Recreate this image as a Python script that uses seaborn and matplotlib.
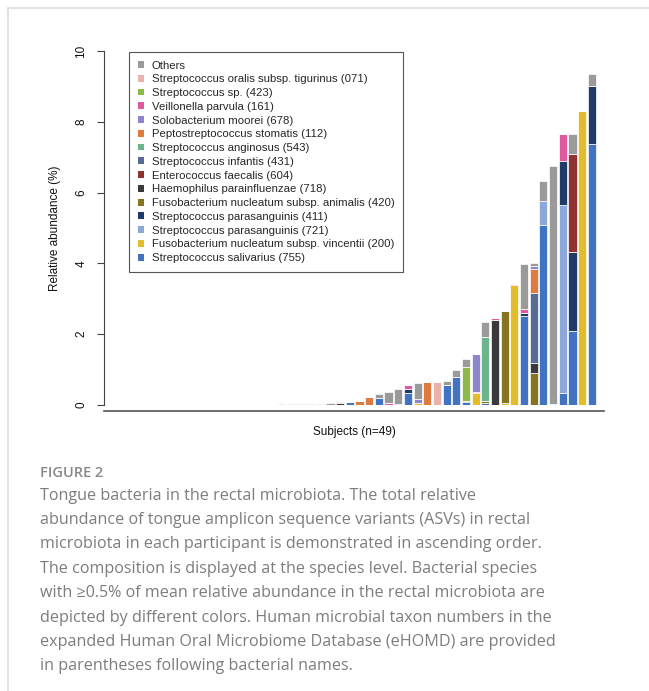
import pandas as pd
import matplotlib
matplotlib.use('Agg')
import matplotlib.pyplot as plt
import seaborn as sns
from matplotlib.patches import Patch
from matplotlib.lines import Line2D

# Subjects ranked 1..49 by total tongue-ASV abundance (ascending)
n_subjects = 49

# Legend order (top of stack first)
species = [
    'Others',
    'Streptococcus oralis subsp. tigurinus (071)',
    'Streptococcus sp. (423)',
    'Veillonella parvula (161)',
    'Solobacterium moorei (678)',
    'Peptostreptococcus stomatis (112)',
    'Streptococcus anginosus (543)',
    'Streptococcus infantis (431)',
    'Enterococcus faecalis (604)',
    'Haemophilus parainfluenzae (718)',
    'Fusobacterium nucleatum subsp. animalis (420)',
    'Streptococcus parasanguinis (411)',
    'Streptococcus parasanguinis (721)',
    'Fusobacterium nucleatum subsp. vincentii (200)',
    'Streptococcus salivarius (755)',
]
colors = ['#9a9a9a', '#e9b3ab', '#8db84a', '#e05aa0', '#8e86cc', '#e07b3f',
          '#6db38b', '#566c96', '#913232', '#3a3a3a', '#877420', '#203b67',
          '#8ca8db', '#e2bc2a', '#4273c2']

# Relative abundance (%) per species, keyed by subject rank
others = {17: 0.02, 18: 0.02, 19: 0.02, 20: 0.02, 21: 0.02, 22: 0.07, 23: 0.03,
          27: 0.12, 28: 0.31, 29: 0.40, 31: 0.45, 34: 0.12, 35: 0.21, 36: 0.23,
          38: 0.41, 42: 1.27, 43: 0.08, 44: 0.57, 45: 6.73, 47: 0.56, 49: 0.35}
oralis_071 = {33: 0.66}
strep_sp_423 = {36: 0.95}
veillonella_161 = {28: 0.07, 30: 0.11, 39: 0.07, 41: 0.03, 42: 0.11, 45: 0.03, 46: 0.77}
solobacterium_678 = {31: 0.09, 37: 1.08, 43: 0.08}
pepto_112 = {25: 0.10, 26: 0.23, 32: 0.66, 37: 0.03, 43: 0.67}
anginosus_543 = {38: 1.83}
infantis_431 = {43: 1.98}
faecalis_604 = {47: 2.76}
haemophilus_718 = {23: 0.05, 29: 0.04, 39: 2.40, 43: 0.28}
fuso_animalis_420 = {38: 0.05, 40: 2.60, 43: 0.91}
parasang_411 = {30: 0.10, 36: 0.04, 42: 0.08, 46: 1.24, 47: 2.23, 49: 1.64}
parasang_721 = {44: 0.69, 46: 5.30}
fuso_vincentii_200 = {31: 0.07, 37: 0.34, 40: 0.05, 41: 3.38, 48: 8.31}
salivarius_755 = {24: 0.08, 27: 0.20, 30: 0.35, 34: 0.56, 35: 0.78, 36: 0.08,
                  38: 0.05, 42: 2.51, 44: 5.08, 46: 0.34, 47: 2.10, 49: 7.36}

series = [others, oralis_071, strep_sp_423, veillonella_161, solobacterium_678,
          pepto_112, anginosus_543, infantis_431, faecalis_604, haemophilus_718,
          fuso_animalis_420, parasang_411, parasang_721, fuso_vincentii_200,
          salivarius_755]

caption_lines = [
    'Tongue bacteria in the rectal microbiota. The total relative',
    'abundance of tongue amplicon sequence variants (ASVs) in rectal',
    'microbiota in each participant is demonstrated in ascending order.',
    'The composition is displayed at the species level. Bacterial species',
    'with \u22650.5% of mean relative abundance in the rectal microbiota are',
    'depicted by different colors. Human microbial taxon numbers in the',
    'expanded Human Oral Microbiome Database (eHOMD) are provided',
    'in parentheses following bacterial names.',
]

# Long table for seaborn
rows = []
for name, vals in zip(species, series):
    for subj, v in vals.items():
        rows.append({'subject': subj, 'species': name, 'abundance': v})
df = pd.DataFrame(rows)

sns.set_style('white')
plt.rcParams['font.family'] = ['Liberation Sans', 'DejaVu Sans']

W, H = 649, 691
fig = plt.figure(figsize=(W / 100, H / 100), dpi=100)
ax = fig.add_axes([104 / W, 1 - 405 / H, 500 / W, 354 / H])

sns.histplot(data=df, x='subject', weights='abundance', hue='species',
             hue_order=species, palette=colors, multiple='stack', discrete=True,
             shrink=0.84, alpha=1, edgecolor='white', linewidth=0.5,
             legend=False, ax=ax)

ax.set_xlim(-1.40, 50.26)
ax.set_ylim(0, 10)
ax.set_xticks([])
ax.set_yticks([0, 2, 4, 6, 8, 10])
ax.set_yticklabels(['0', '2', '4', '6', '8', '10'], rotation=90, va='center')
ax.tick_params(axis='y', length=5, width=0.8, color='#444444', pad=7,
               labelsize=8.5, labelcolor='#111111', left=True)
for s in ['top', 'right']:
    ax.spines[s].set_visible(False)
ax.spines['left'].set_bounds(0, 10)
ax.spines['left'].set_color('#444444')
ax.spines['left'].set_linewidth(0.8)
ax.spines['bottom'].set_position(('outward', 4))
ax.spines['bottom'].set_color('#555555')
ax.spines['bottom'].set_linewidth(1.2)

ax.set_ylabel('Relative abundance (%)', fontsize=8.5, color='#111111')
ax.yaxis.set_label_coords(-0.086, 0.5)
ax.set_xlabel('Subjects (n=49)', fontsize=8.5, color='#111111')
ax.xaxis.set_label_coords(0.5, -0.058)

handles = [Patch(facecolor=c, edgecolor='none') for c in colors]
leg = ax.legend(handles, species, loc='upper left',
                bbox_to_anchor=(25 / 500, 1 - 1 / 354), borderaxespad=0,
                fontsize=8.2, frameon=True, fancybox=False, framealpha=1,
                edgecolor='#555555', handlelength=0.55, handleheight=0.55,
                handletextpad=0.7, labelspacing=0.33, borderpad=0.75)
leg.get_frame().set_linewidth(0.8)

# Caption
fig.text(40 / W, 1 - 473 / H, 'FIGURE 2', fontsize=10.5, color='#888888',
         family=['Open Sans', 'DejaVu Sans'], fontweight='semibold', va='center')
for i, line in enumerate(caption_lines):
    fig.text(40 / W, 1 - (495.5 + i * 24.4) / H, line, fontsize=11.6,
             color='#7d7d7d', family=['Open Sans', 'DejaVu Sans'], va='center')

# Page frame
fig.add_artist(Line2D([8 / W, 8 / W], [0, 1 - 8 / H], color='#dddddd', lw=1.2))
fig.add_artist(Line2D([8 / W, 1], [1 - 8 / H, 1 - 8 / H], color='#dddddd', lw=1.2))

fig.savefig('out.png', dpi=100)
